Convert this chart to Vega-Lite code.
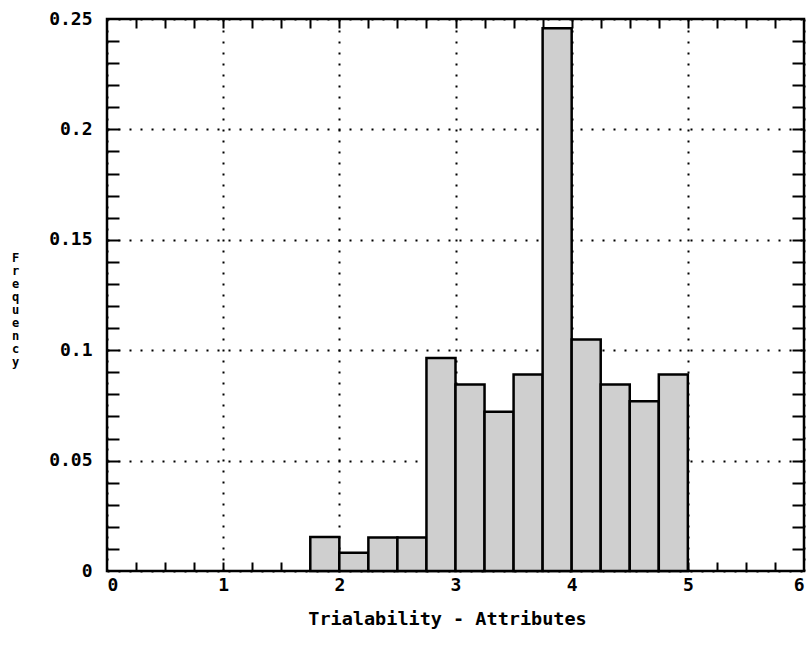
{
  "$schema": "https://vega.github.io/schema/vega-lite/v6.json",
  "width": 697,
  "height": 552,
  "autosize": {"type": "none"},
  "padding": {"left": 107, "top": 19, "right": 8, "bottom": 89},
  "background": "white",
  "config": {
    "view": {"stroke": "black", "strokeWidth": 2.5},
    "axis": {
      "labelFont": "DejaVu Sans Mono",
      "titleFont": "DejaVu Sans Mono",
      "labelColor": "black",
      "titleColor": "black",
      "tickColor": "black",
      "gridColor": "black",
      "domain": false
    }
  },
  "data": {
    "values": [
      {"start": 1.75, "end": 2.0, "freq": 0.0154},
      {"start": 2.0, "end": 2.25, "freq": 0.0083},
      {"start": 2.25, "end": 2.5, "freq": 0.0152},
      {"start": 2.5, "end": 2.75, "freq": 0.0152},
      {"start": 2.75, "end": 3.0, "freq": 0.0965},
      {"start": 3.0, "end": 3.25, "freq": 0.0845},
      {"start": 3.25, "end": 3.5, "freq": 0.0721},
      {"start": 3.5, "end": 3.75, "freq": 0.089},
      {"start": 3.75, "end": 4.0, "freq": 0.2458},
      {"start": 4.0, "end": 4.25, "freq": 0.1048},
      {"start": 4.25, "end": 4.5, "freq": 0.0845},
      {"start": 4.5, "end": 4.75, "freq": 0.0769},
      {"start": 4.75, "end": 5.0, "freq": 0.089}
    ]
  },
  "layer": [
    {
      "mark": {"type": "rect", "fill": "#cfcfcf", "stroke": "black", "strokeWidth": 2.5},
      "encoding": {
        "x": {
          "field": "start",
          "type": "quantitative",
          "scale": {"domain": [0, 6], "nice": false, "zero": false},
          "axis": {
            "orient": "bottom",
            "values": [0, 1, 2, 3, 4, 5, 6],
            "format": "d",
            "ticks": false,
            "grid": true,
            "gridDash": [2, 9],
            "gridWidth": 2,
            "labelFontSize": 18,
            "labelFontWeight": "bold",
            "labelPadding": 5,
            "labelDx": -4,
            "title": "Trialability - Attributes",
            "titleFontSize": 18.5,
            "titleFontWeight": "bold",
            "titleX": 340,
            "titleAlign": "center",
            "titleY": 47,
            "titleBaseline": "middle"
          }
        },
        "x2": {"field": "end"},
        "y": {
          "field": "freq",
          "type": "quantitative",
          "scale": {"domain": [0, 0.25], "nice": false},
          "axis": {
            "orient": "left",
            "values": [0, 0.05, 0.1, 0.15, 0.2, 0.25],
            "format": "~g",
            "ticks": false,
            "grid": true,
            "gridDash": [2, 9],
            "gridWidth": 2,
            "labelFontSize": 18,
            "labelFontWeight": "bold",
            "labelPadding": 15,
            "title": ["F", "r", "e", "q", "u", "e", "n", "c", "y"],
            "titleAngle": 0,
            "titleX": -92,
            "titleY": 233,
            "titleAlign": "center",
            "titleBaseline": "top",
            "titleFontSize": 12,
            "titleFontWeight": "bold",
            "titleLineHeight": 13
          }
        },
        "y2": {"datum": 0}
      }
    },
    {
      "mark": {"type": "point", "opacity": 0},
      "encoding": {
        "x": {
          "field": "start",
          "type": "quantitative",
          "axis": {
            "orient": "bottom",
            "values": [0.25, 0.5, 0.75, 1, 1.25, 1.5, 1.75, 2, 2.25, 2.5, 2.75, 3, 3.25, 3.5, 3.75, 4, 4.25, 4.5, 4.75, 5, 5.25, 5.5, 5.75],
            "labels": false,
            "grid": false,
            "tickSize": -9,
            "tickWidth": 2,
            "title": null
          }
        },
        "y": {
          "field": "freq",
          "type": "quantitative",
          "axis": {
            "orient": "left",
            "values": [0.01, 0.02, 0.03, 0.04, 0.05, 0.06, 0.07, 0.08, 0.09, 0.1, 0.11, 0.12, 0.13, 0.14, 0.15, 0.16, 0.17, 0.18, 0.19, 0.2, 0.21, 0.22, 0.23, 0.24],
            "labels": false,
            "grid": false,
            "tickSize": -12,
            "tickWidth": 2,
            "title": null
          }
        }
      }
    },
    {
      "mark": {"type": "point", "opacity": 0},
      "encoding": {
        "x": {
          "field": "start",
          "type": "quantitative",
          "axis": {
            "orient": "top",
            "values": [0.25, 0.5, 0.75, 1, 1.25, 1.5, 1.75, 2, 2.25, 2.5, 2.75, 3, 3.25, 3.5, 3.75, 4, 4.25, 4.5, 4.75, 5, 5.25, 5.5, 5.75],
            "labels": false,
            "grid": false,
            "tickSize": -9,
            "tickWidth": 2,
            "title": null
          }
        },
        "y": {
          "field": "freq",
          "type": "quantitative",
          "axis": {
            "orient": "right",
            "values": [0.01, 0.02, 0.03, 0.04, 0.05, 0.06, 0.07, 0.08, 0.09, 0.1, 0.11, 0.12, 0.13, 0.14, 0.15, 0.16, 0.17, 0.18, 0.19, 0.2, 0.21, 0.22, 0.23, 0.24],
            "labels": false,
            "grid": false,
            "tickSize": -12,
            "tickWidth": 2,
            "title": null
          }
        }
      }
    }
  ],
  "resolve": {"axis": {"x": "independent", "y": "independent"}}
}
